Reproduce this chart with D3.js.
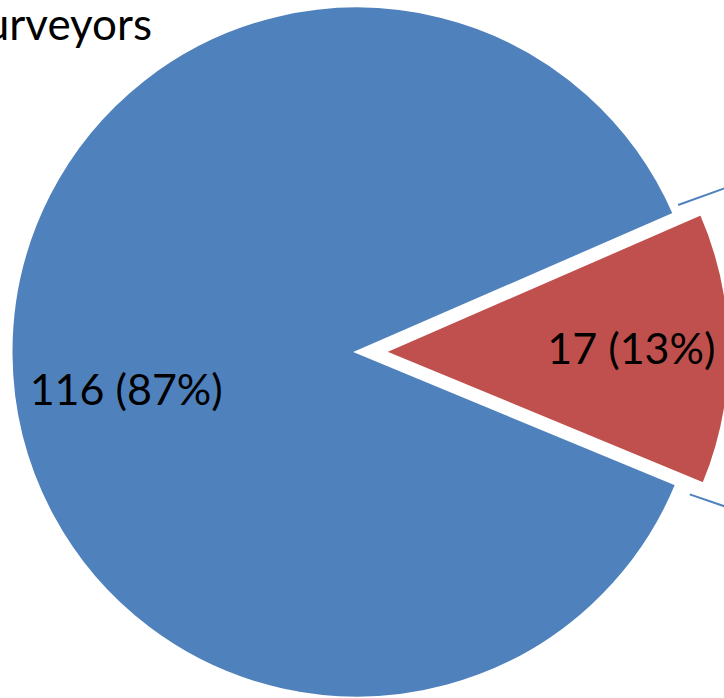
<!DOCTYPE html>
<html>
<head>
<meta charset="utf-8">
<script src="https://cdn.jsdelivr.net/npm/d3@7"></script>
<style>
  html, body { margin: 0; padding: 0; background: #fff; }
  svg { display: block; }
  text { font-family: Lato, "Open Sans", sans-serif; fill: #000; }
</style>
</head>
<body>
<svg id="chart" width="724" height="698"></svg>
<script>
// ---- data ----
const categories = ["Other", "Surveyors"];
const values = [116, 17];
const colors = ["#4F81BD", "#C0504D"];
const titleText = "Surveyors";

// ---- layout ----
const W = 724, H = 698;
const cx = 357, cy = 352, R = 346;
const explode = [0, 27];
const deg = Math.PI / 180;

const svg = d3.select("#chart");

const total = d3.sum(values);
const pie = d3.pie().sort(null).value(d => d).startAngle(112.5 * deg).endAngle(112.5 * deg + 2 * Math.PI);
const arcs = pie(values);
const arc = d3.arc().innerRadius(0).outerRadius(R);

const g = svg.append("g");

arcs.forEach((a, i) => {
  const mid = (a.startAngle + a.endAngle) / 2;
  const ox = Math.sin(mid) * explode[i];
  const oy = -Math.cos(mid) * explode[i];
  g.append("path")
    .attr("d", arc(a))
    .attr("transform", `translate(${cx + ox},${cy + oy})`)
    .attr("fill", colors[i])
    .attr("stroke", "#fff")
    .attr("stroke-width", 3)
    .attr("stroke-linejoin", "miter");
});

// series lines from exploded slice toward secondary plot (off-canvas)
{
  const a = arcs[1];
  const mid = (a.startAngle + a.endAngle) / 2;
  const ox = cx + Math.sin(mid) * explode[1];
  const oy = cy - Math.cos(mid) * explode[1];
  const edges = [
    { ang: a.startAngle - 3 * deg, rr: R * 0.95, dir: mid - 19.3 * deg },
    { ang: a.endAngle + 2.5 * deg, rr: R * 0.975, dir: mid + 19.5 * deg }
  ];
  edges.forEach(e => {
    const x1 = ox + Math.sin(e.ang) * e.rr;
    const y1 = oy - Math.cos(e.ang) * e.rr;
    const L = 300;
    const x2 = x1 + Math.sin(e.dir) * L;
    const y2 = y1 - Math.cos(e.dir) * L;
    svg.append("line")
      .attr("x1", x1).attr("y1", y1).attr("x2", x2).attr("y2", y2)
      .attr("stroke", colors[0]).attr("stroke-width", 2);
  });
}

// data labels
const fmt = d3.format(".0%");
const labelPos = [
  { k: 0.667, dy: 34 },
  { k: 0.715, dy: -2 }
];
arcs.forEach((a, i) => {
  const mid = (a.startAngle + a.endAngle) / 2;
  const ox = cx + Math.sin(mid) * explode[i];
  const oy = cy - Math.cos(mid) * explode[i];
  const rr = R * labelPos[i].k;
  const x = ox + Math.sin(mid) * rr;
  const y = oy - Math.cos(mid) * rr + labelPos[i].dy;
  svg.append("text")
    .attr("x", x).attr("y", y)
    .attr("text-anchor", "middle")
    .attr("dominant-baseline", "central")
    .style("font-size", "43px")
    .text(`${values[i]} (${fmt(values[i] / total)})`);
});

// title (clipped at left in the reference)
svg.append("text")
  .attr("x", 152).attr("y", 40)
  .attr("text-anchor", "end")
  .style("font-size", "44px")
  .text(titleText);
</script>
</body>
</html>
